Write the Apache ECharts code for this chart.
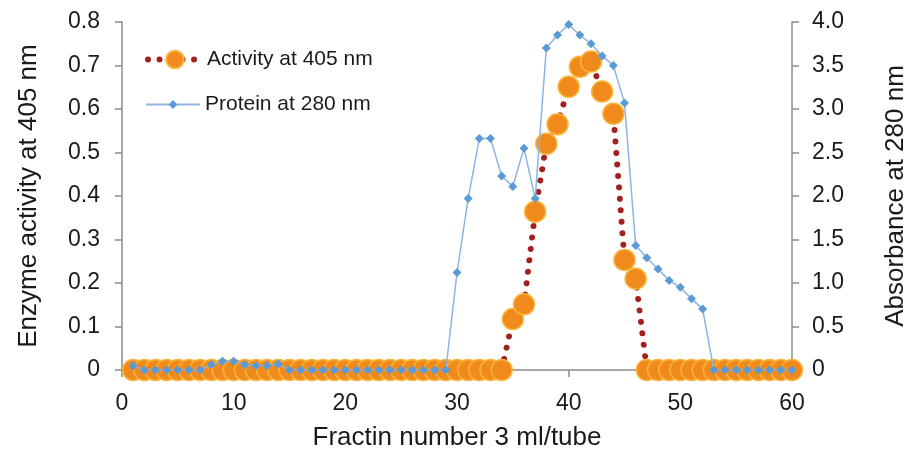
<!DOCTYPE html>
<html>
<head>
<meta charset="utf-8">
<script src="https://cdn.jsdelivr.net/npm/echarts@6/dist/echarts.min.js"></script>
<style>html,body{margin:0;padding:0;background:#fff}#c{width:909px;height:452px}</style>
</head>
<body>
<div id="c"></div>
<script>
const fractions = [1,2,3,4,5,6,7,8,9,10,11,12,13,14,15,16,17,18,19,20,21,22,23,24,25,26,27,28,29,30,31,32,33,34,35,36,37,38,39,40,41,42,43,44,45,46,47,48,49,50,51,52,53,54,55,56,57,58,59,60];
const activity405 = [0,0,0,0,0,0,0,0,0,0,0,0,0,0,0,0,0,0,0,0,0,0,0,0,0,0,0,0,0,0,0,0,0,0,
  0.117,0.151,0.364,0.520,0.565,0.651,0.697,0.709,0.640,0.589,0.253,0.210,
  0,0,0,0,0,0,0,0,0,0,0,0,0,0];
const protein280 = [0.05,0,0,0,0,0,0,0.06,0.10,0.10,0.06,0.05,0.05,0.07,0,0,0,0,0,0,0,0,0,0,0,0,0,0,0,
  1.12,1.97,2.66,2.66,2.23,2.11,2.55,1.97,3.70,3.85,3.97,3.85,3.75,3.61,3.50,3.07,1.43,1.29,1.16,1.03,0.95,0.82,0.70,
  0,0,0,0,0,0,0,0];
const seriesNames = ['Activity at 405 nm', 'Protein at 280 nm'];
const xTitle = 'Fractin number 3 ml/tube';
const yLeftTitle = 'Enzyme activity at 405 nm';
const yRightTitle = 'Absorbance at 280 nm';

const FONT = 'Liberation Sans, Arial, sans-serif';
const axisColor = '#8c8c8c';
const textColor = '#1a1a1a';
const fmt = v => v === 0 ? '0' : v.toFixed(1);
const legendText = {fontSize: 21, color: textColor, fontFamily: FONT};

const chart = echarts.init(document.getElementById('c'), null, {renderer: 'canvas'});
chart.setOption({
  animation: false,
  backgroundColor: '#ffffff',
  textStyle: {fontFamily: FONT},
  grid: {left: 122, right: 117, top: 22, bottom: 82, outerBoundsMode: 'none', containLabel: false},
  legend: [{
    orient: 'vertical', left: 145, top: 49, padding: 0,
    itemWidth: 54, itemHeight: 22,
    textStyle: legendText,
    data: [{name: seriesNames[0], lineStyle: {width: 6}}]
  }, {
    orient: 'vertical', left: 145, top: 94, padding: 0,
    itemWidth: 54, itemHeight: 11,
    textStyle: legendText,
    data: [seriesNames[1]]
  }],
  xAxis: {
    type: 'value', min: 0, max: 60, interval: 10,
    name: xTitle, nameLocation: 'middle', nameGap: 55,
    nameTextStyle: {fontSize: 26, color: textColor, fontFamily: FONT},
    axisLine: {show: true, lineStyle: {color: axisColor, width: 1.5}},
    axisTick: {show: true, inside: false, length: 7, lineStyle: {color: axisColor, width: 1.5}},
    axisLabel: {fontSize: 23, color: textColor, margin: 22, fontFamily: FONT},
    splitLine: {show: false}
  },
  yAxis: [{
    type: 'value', min: 0, max: 0.8, interval: 0.1, position: 'left',
    name: yLeftTitle, nameLocation: 'middle', nameGap: 80, nameRotate: 90,
    nameTextStyle: {fontSize: 26, color: textColor, fontFamily: FONT},
    axisLine: {show: true, lineStyle: {color: axisColor, width: 1.5}},
    axisTick: {show: true, inside: false, length: 7, lineStyle: {color: axisColor, width: 1.5}},
    axisLabel: {fontSize: 23, color: textColor, margin: 22, formatter: fmt, fontFamily: FONT},
    splitLine: {show: false}
  }, {
    type: 'value', min: 0, max: 4, interval: 0.5, position: 'right',
    name: yRightTitle, nameLocation: 'middle', nameGap: 91, nameRotate: 90,
    nameTextStyle: {fontSize: 26, color: textColor, fontFamily: FONT},
    axisLine: {show: true, lineStyle: {color: axisColor, width: 1.5}},
    axisTick: {show: true, inside: false, length: 7, lineStyle: {color: axisColor, width: 1.5}},
    axisLabel: {fontSize: 23, color: textColor, margin: 20, formatter: fmt, fontFamily: FONT},
    splitLine: {show: false}
  }],
  series: [{
    name: seriesNames[0], type: 'line', yAxisIndex: 0,
    data: fractions.map((f, i) => [f, activity405[i]]),
    symbol: 'circle', symbolSize: 21,
    itemStyle: {color: '#F08A1C', borderColor: '#F9B43A', borderWidth: 1.5},
    lineStyle: {color: '#A3201F', width: 6, type: [0.01, 11.5], cap: 'round'},
    z: 2
  }, {
    name: seriesNames[1], type: 'line', yAxisIndex: 1,
    data: fractions.map((f, i) => [f, protein280[i]]),
    symbol: 'diamond', symbolSize: 9,
    itemStyle: {color: '#5B9BD5'},
    lineStyle: {color: '#8DB4E2', width: 1.5},
    z: 3
  }]
});
</script>
</body>
</html>
